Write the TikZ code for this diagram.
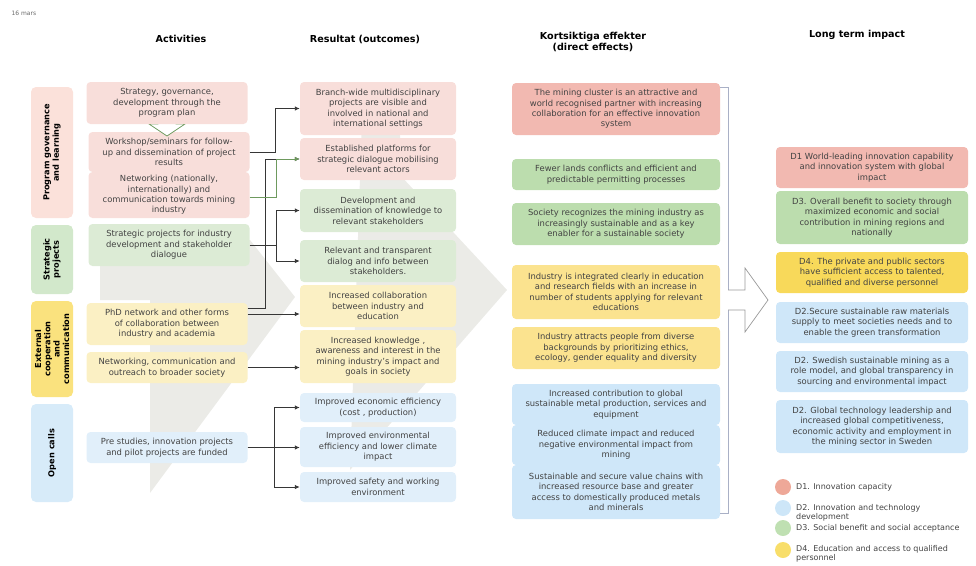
\documentclass[tikz,border=0pt]{standalone}
\usepackage{fontspec}
\setmainfont{DejaVu Sans}
\usetikzlibrary{arrows.meta}

\definecolor{txt}{HTML}{434343}
\definecolor{bggray}{HTML}{EBEBE7}
\definecolor{darkline}{HTML}{363636}
\definecolor{greenline}{HTML}{6E9A5E}
\definecolor{bracketcol}{HTML}{A9B0C6}
% light boxes (activities, outcomes)
\definecolor{pinkA}{HTML}{F8DEDA}
\definecolor{greenA}{HTML}{DCEBD5}
\definecolor{yellowA}{HTML}{FBF0C4}
\definecolor{blueA}{HTML}{E1EFFA}
% left labels
\definecolor{pinkL}{HTML}{FBE1DA}
\definecolor{greenL}{HTML}{D2E8CB}
\definecolor{yellowL}{HTML}{FAE27E}
\definecolor{blueL}{HTML}{D7EBF9}
% direct effects and long term
\definecolor{pinkS}{HTML}{F2B9B1}
\definecolor{greenS}{HTML}{BCDDAE}
\definecolor{yellowS}{HTML}{FBE38F}
\definecolor{blueS}{HTML}{CFE7F9}
\definecolor{yellowD}{HTML}{F8D95A}
% legend dots
\definecolor{dotone}{HTML}{EEA898}
\definecolor{dottwo}{HTML}{CDE6F8}
\definecolor{dotthree}{HTML}{BFE0B2}
\definecolor{dotfour}{HTML}{F8DE6A}

\tikzset{
  box/.style={rounded corners=4pt, align=center, inner sep=0pt, text=txt,
    font=\fontsize{8.4}{10.4}\selectfont},
  act/.style={box, minimum width=161pt},
  res/.style={box, minimum width=156pt},
  eff/.style={box, minimum width=208pt},
  imp/.style={box, minimum width=192pt},
  lab/.style={rounded corners=5pt, rotate=90, minimum height=42pt, align=center,
    inner sep=0pt, font=\bfseries\fontsize{8.2}{9.3}\selectfont},
  head/.style={align=center, font=\bfseries\fontsize{9.6}{11.5}\selectfont},
  conn/.style={draw=darkline, line width=0.9pt, -{Latex[length=5pt,width=4.5pt]}},
  dot/.style={circle, minimum size=16pt, inner sep=0pt},
  legend/.style={anchor=west, align=left, text=txt, inner sep=0pt,
    font=\fontsize{8}{9.2}\selectfont},
}

\begin{document}
\begin{tikzpicture}[x=1pt, y=-1pt]
  \useasboundingbox (0,0) rectangle (976,565);

  % faded arrows behind the columns
  \fill[bggray] (100,240) -- (250,240) -- (295,297) -- (150,493) -- (150,300) -- (100,300) -- cycle;
  \fill[bggray] (362,120) -- (400,120) -- (400,175) -- (507,290) -- (350,470) -- cycle;

  \node[anchor=west, text=txt!80, font=\fontsize{6}{7}\selectfont] (date) at (8,13) {16 mars};

  \node[head] (h1) at (181,39) {Activities};
  \node[head] (h2) at (365,39) {Resultat (outcomes)};
  \node[head] (h3) at (593,42) {Kortsiktiga effekter\\(direct effects)};
  \node[head] (h4) at (857,35) {Long term impact};

  \node[lab, fill=pinkL, minimum width=131pt] (g1) at (52,152.5) {Program governance\\and learning};
  \node[lab, fill=greenL, minimum width=69pt] (g2) at (52,259.5) {Strategic\\projects};
  \node[lab, fill=yellowL, minimum width=96pt] (g3) at (52,349) {External\\cooperation\\and\\communication};
  \node[lab, fill=blueL, minimum width=98pt] (g4) at (52,453) {Open calls};

  \node[act, fill=pinkA, minimum height=40pt] (a2) at (169,152) {Workshop/seminars for follow-\\up and dissemination of project\\results};
  \node[act, fill=pinkA, minimum height=46pt] (a3) at (169,195) {Networking (nationally,\\internationally) and\\communication towards mining\\industry};
  \node[act, fill=greenA, minimum height=42pt] (a4) at (169,245) {Strategic projects for industry\\development and stakeholder\\dialogue};
  \node[act, fill=yellowA, minimum height=42pt] (a5) at (167,324) {PhD network and  other forms\\of collaboration between\\industry and academia};
  \node[act, fill=yellowA, minimum height=31pt] (a6) at (167,367.5) {Networking, communication and\\outreach to broader society};
  \node[act, fill=blueA, minimum height=31pt] (a7) at (167,447.5) {Pre studies, innovation projects\\and pilot projects are funded};

  \draw[greenline, fill=white, line width=0.8pt] (158,116) -- (176,116) -- (176,124) -- (185,124) -- (167,136) -- (149,124) -- (158,124) -- cycle;
  \node[act, fill=pinkA, minimum height=42pt] (a1) at (167,103) {Strategy, governance,\\development through the\\program plan};

  \node[res, fill=pinkA, minimum height=53pt] (o1) at (378,108.5) {Branch-wide multidisciplinary\\projects are visible and\\involved in national and\\international settings};
  \node[res, fill=pinkA, minimum height=42pt] (o2) at (378,159) {Established platforms for\\strategic dialogue mobilising\\relevant  actors};
  \node[res, fill=greenA, minimum height=43pt] (o3) at (378,210.5) {Development and\\dissemination  of knowledge to\\relevant stakeholders};
  \node[res, fill=greenA, minimum height=42pt] (o4) at (378,261) {Relevant and transparent\\dialog and info between\\stakeholders.};
  \node[res, fill=yellowA, minimum height=42pt] (o5) at (378,306) {Increased collaboration\\between industry and\\education};
  \node[res, fill=yellowA, minimum height=53pt] (o6) at (378,356.5) {Increased knowledge ,\\awareness and interest in the\\mining industry's impact  and\\goals in society};
  \node[res, fill=blueA, minimum height=29pt] (o7) at (378,407.5) {Improved economic efficiency\\(cost , production)};
  \node[res, fill=blueA, minimum height=40pt] (o8) at (378,447) {Improved environmental\\efficiency and lower climate\\impact};
  \node[res, fill=blueA, minimum height=30pt] (o9) at (378,487) {Improved safety and working\\environment};

  \draw[conn] (a2.east) -- ++(26,0) |- (o1.west);
  \draw[conn] ([yshift=16pt]a5.east) -- ++(18,0) |- (o2.west);
  \draw[conn, draw=greenline] ([yshift=-2pt]a3.east) -- ++(27,0) |- (o2.west);
  \draw[conn] (a4.east) -- ++(27,0) |- (o3.west);
  \draw[conn] (a4.east) ++(27,0) |- (o4.west);
  \draw[conn] ([yshift=10pt]a5.east) -- ([yshift=10pt]a5.east -| o5.west);
  \draw[conn] (a6.east) -- (a6.east -| o6.west);
  \draw[conn] (a7.east) -- ++(27,0) |- (o7.west);
  \draw[conn] (a7.east) -- (a7.east -| o8.west);
  \draw[conn] (a7.east) ++(27,0) |- (o9.west);

  \node[eff, fill=pinkS, minimum height=52pt] (s1) at (616,109) {The mining cluster is an attractive and\\world recognised partner with increasing\\collaboration for an effective innovation\\system};
  \node[eff, fill=greenS, minimum height=31pt] (s2) at (616,174.5) {Fewer lands conflicts and  efficient and\\predictable permitting processes};
  \node[eff, fill=greenS, minimum height=42pt] (s3) at (616,224) {Society recognizes the mining industry as\\increasingly sustainable and as a key\\enabler for  a sustainable society};
  \node[eff, fill=yellowS, minimum height=54pt] (s4) at (616,292) {Industry is integrated clearly in education\\and research fields with an increase in\\number of students applying for  relevant\\educations};
  \node[eff, fill=yellowS, minimum height=42pt] (s5) at (616,348) {Industry attracts people from diverse\\backgrounds by prioritizing  ethics,\\ecology, gender equality and diversity};
  \node[eff, fill=blueS, minimum height=41pt] (s6a) at (616,404.5) {Increased contribution to global\\sustainable metal production, services and\\equipment};
  \node[eff, fill=blueS, minimum height=40pt] (s6b) at (616,445) {Reduced climate impact  and reduced\\negative environmental impact from\\mining};
  \node[eff, fill=blueS, minimum height=54pt] (s6c) at (616,492) {Sustainable and secure value chains  with\\increased resource base and greater\\access to domestically produced metals\\and minerals};

  \draw[bracketcol, line width=0.8pt] ([yshift=-5pt]s1.north east) -- ++(8,0) |- ([yshift=6pt]s6c.south east);
  \draw[gray!80, fill=white, line width=0.7pt] (728,290) -- (745,290) -- (745,268) -- (768,300) -- (745,332) -- (745,310) -- (728,310);

  \node[imp, fill=pinkS, minimum height=41pt] (l1) at (872,167.5) {D1 World-leading innovation capability\\and innovation system with global\\impact};
  \node[imp, fill=greenS, minimum height=53pt] (l2) at (872,217.5) {D3. Overall benefit to society through\\maximized economic and social\\contribution  in mining regions and\\nationally};
  \node[imp, fill=yellowD, minimum height=41pt] (l3) at (872,272.5) {D4. The private and public sectors\\have sufficient access to talented,\\qualified and diverse personnel};
  \node[imp, fill=blueS, minimum height=41pt] (l4) at (872,322.5) {D2.Secure sustainable raw materials\\supply to meet societies needs and to\\enable the green transformation};
  \node[imp, fill=blueS, minimum height=41pt] (l5) at (872,371.5) {D2. Swedish sustainable mining as a\\role model, and global transparency in\\sourcing and environmental impact};
  \node[imp, fill=blueS, minimum height=53pt] (l6) at (872,426.5) {D2. Global technology leadership and\\increased global competitiveness,\\economic activity and employment in\\the mining sector in Sweden};

  \node[dot, fill=dotone] (k1) at (783,487) {};
  \node[dot, fill=dottwo] (k2) at (783,508) {};
  \node[dot, fill=dotthree] (k3) at (783,528) {};
  \node[dot, fill=dotfour] (k4) at (783,550) {};
  \node[legend] (t1) at (796,487) {D1. Innovation capacity};
  \node[legend] (t2) at (796,512.5) {D2. Innovation and technology\\development};
  \node[legend] (t3) at (796,528) {D3. Social benefit and social acceptance};
  \node[legend] (t4) at (796,553.5) {D4. Education and access to qualified\\personnel};
\end{tikzpicture}
\end{document}
